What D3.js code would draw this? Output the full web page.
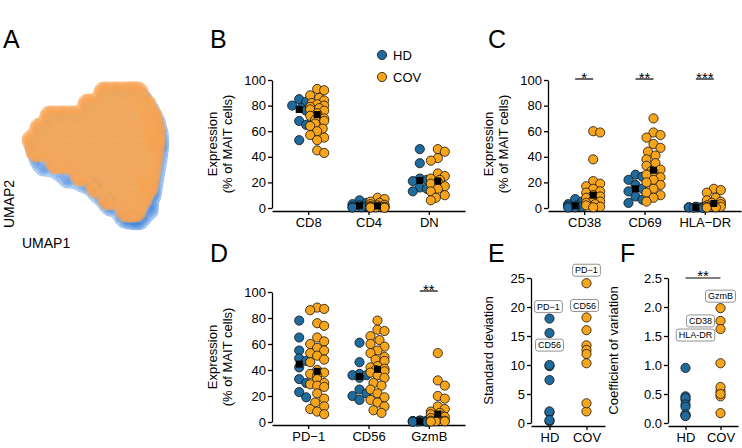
<!DOCTYPE html>
<html>
<head>
<meta charset="utf-8">
<script src="https://cdn.jsdelivr.net/npm/d3@7/dist/d3.min.js"></script>
<style>
  body { margin: 0; background: #fff; }
  text { font-family: Arial, "Liberation Sans", sans-serif; }
</style>
</head>
<body>
<div id="canvas"></div>
<script>
// ---- data ----
const hdColor = "#1f6b9e";
const covColor = "#f8a51c";

// panel A: UMAP density anchors, one row per UMAP2 level
const umapRowY = [5.8, 4.6, 3.4, 2.2, 1.0, -0.2, -1.4, -2.6, -3.8, -5.0, -6.2];
const umapRowX = [
  [1.4, 2.6, 3.8, 4.8],
  [-0.2, 1.0, 2.2, 3.4, 4.6, 5.6],
  [-4.0, -2.8, -1.6, -0.4, 0.8, 2.0, 3.2, 4.4, 5.6, 6.2],
  [-5.0, -3.8, -2.6, -1.4, -0.2, 1.0, 2.2, 3.4, 4.6, 5.8, 6.5],
  [-5.8, -4.6, -3.4, -2.2, -1.0, 0.2, 1.4, 2.6, 3.8, 5.0, 6.2, 6.5],
  [-5.4, -4.2, -3.0, -1.8, -0.6, 0.6, 1.8, 3.0, 4.2, 5.4, 6.4],
  [-3.4, -2.2, -1.0, 0.2, 1.4, 2.6, 3.8, 5.0, 6.2],
  [-1.0, 0.2, 1.4, 2.6, 3.8, 5.0, 6.0],
  [0.6, 1.8, 3.0, 4.2, 5.4, 5.8],
  [1.8, 3.0, 4.2, 5.2],
  [3.6, 4.6]
];
// HD cloud sits slightly lower and reaches further down on the bottom edge
const umapHDShift = [0.3, -0.6];
const umapHDExtra = [[-4.6, -1.6], [-2.2, -2.8], [0.4, -3.6], [1.8, -5.0], [3.4, -6.6], [4.8, -6.8], [5.8, -6.0]];

// panel B
const catsB = ["CD8", "CD4", "DN"];
const hdB = [
  [85, 83, 80, 78, 76, 68, 65, 53],
  [6, 4, 3, 2, 1.5, 1, 0.5, 0.3],
  [46, 35, 23, 22, 21, 16, 15, 13]
];
const covB = [
  [93, 92, 88, 86, 84, 82, 81, 80, 79, 78, 77, 76, 74, 72, 70, 69, 68, 66, 64, 62, 60, 57, 55, 53, 45, 43],
  [8, 7, 5, 4, 3, 2.5, 2, 1.5, 1, 1, 0.8, 0.5, 0.5, 0.3, 0.2],
  [46, 44, 39, 37, 27, 25, 23, 22, 20, 19, 17, 15, 13, 10, 8, 6]
];

// panel C
const catsC = ["CD38", "CD69", "HLA\u2212DR"];
const hdC = [
  [7, 5, 3, 2, 1.5, 1, 0.5, 0.3],
  [26, 24.5, 22, 18, 15, 13, 9, 6.5, 4],
  [1, 0.8, 0.6, 0.5, 0.4, 0.3, 0.2, 0.1]
];
const covC = [
  [60, 59, 38, 21, 19, 17, 15, 13, 12, 10, 9, 8, 6, 5, 4, 3, 2, 1, 0.5],
  [70, 59, 57, 55, 50, 47, 44, 41, 38, 35, 33, 30, 29, 28, 26, 24, 22, 20, 18, 15, 12, 10, 8, 5],
  [15, 14, 12, 8, 6, 5, 4, 3, 2, 1.5, 1, 0.8, 0.5, 0.3]
];
const starsC = ["*", "**", "***"];

// panel D
const catsD = ["PD\u22121", "CD56", "GzmB"];
const hdD = [
  [78, 65, 55, 49, 47, 42, 33, 30, 23, 19],
  [61, 46, 37, 36, 36, 34, 25, 22, 20, 17],
  [1.2, 1, 0.8, 0.6, 0.5, 0.4, 0.3, 0.2, 0.1]
];
const covD = [
  [88, 87, 86, 76, 74, 65, 62, 60, 57, 55, 53, 51, 48, 46, 40, 38, 37, 36, 33, 30, 29, 28, 27, 22, 18, 15, 12, 10, 8, 6],
  [78, 71, 70, 66, 63, 60, 58, 55, 53, 50, 48, 47, 43, 42, 41, 40, 39, 38, 36, 34, 30, 28, 25, 22, 19, 17, 15, 12, 9, 7],
  [53, 32, 28, 20, 18, 12, 10, 8, 7, 6, 5, 4, 3, 2, 1, 1, 0.5, 0.5, 0.3]
];
const starsD = ["", "", "**"];

// panel E / F (one value per marker: CD8, CD4, DN, CD38, CD69, HLA-DR, PD-1, CD56, GzmB)
const markers = ["CD8", "CD4", "DN", "CD38", "CD69", "HLA-DR", "PD\u22121", "CD56", "GzmB"];
const groups = ["HD", "COV"];
const sdHD = [9.8, 1.8, 10.0, 2.0, 7.4, 0.3, 18.0, 15.5, 0.5];
const sdCOV = [13.4, 2.0, 12.6, 11.9, 16.0, 3.4, 24.1, 18.2, 10.3];
const cvHD = [0.13, 0.95, 0.46, 0.40, 0.43, 0.32, 0.28, 0.15, 0.12];
const cvCOV = [0.17, 1.03, 0.55, 1.76, 0.46, 1.62, 0.62, 0.50, 1.98];

// ---- svg ----
const svg = d3.select("#canvas").append("svg")
  .attr("width", 742).attr("height", 448)
  .style("background", "#fff");

const letter = (t, x, y) => svg.append("text").attr("x", x).attr("y", y)
  .attr("font-size", 25).text(t);

letter("A", 3, 48);
letter("B", 210, 48);
letter("C", 488, 48);
letter("D", 210, 262);
letter("E", 488, 262);
letter("F", 620, 262);

// ---- Panel A: UMAP contours ----
const ux = d3.scaleLinear().domain([-9, 9]).range([0, 180]);
const uy = d3.scaleLinear().domain([-9, 9]).range([240, 60]);

const umapCOV = umapRowY.flatMap((yv, i) => umapRowX[i].map(xv => [xv, yv]));
const umapHD = umapCOV.map(d => [d[0] + umapHDShift[0], d[1] + umapHDShift[1]]).concat(umapHDExtra);

function contours(pts, bw, n, cut) {
  const cs = d3.contourDensity()
    .x(d => ux(d[0])).y(d => uy(d[1]))
    .size([200, 260]).cellSize(1).bandwidth(bw).thresholds(n)(pts);
  const top = d3.max(cs, c => c.value);
  return cs.filter(c => c.value > top * cut);
}

const umapG = svg.append("g");
umapG.selectAll("path.hd").data(contours(umapHD, 5, 40, 0.06)).join("path")
  .attr("class", "hd")
  .attr("d", d3.geoPath())
  .attr("fill", "#2f7ad8").attr("fill-opacity", 0.02)
  .attr("stroke", "#2f7ad8").attr("stroke-width", 0.5);
umapG.selectAll("path.cov").data(contours(umapCOV, 4.6, 45, 0.06)).join("path")
  .attr("class", "cov")
  .attr("d", d3.geoPath())
  .attr("fill", "#f7a556").attr("fill-opacity", 0.06)
  .attr("stroke", "#f7a556").attr("stroke-width", 0.5);

svg.append("text").attr("transform", "translate(14,204) rotate(-90)")
  .attr("text-anchor", "middle").attr("font-size", 14).text("UMAP2");
svg.append("text").attr("x", 22).attr("y", 248)
  .attr("font-size", 14).text("UMAP1");

// ---- helpers ----
function swarm(vals, cx, y, r) {
  const placed = [];
  const offs = [0, 4, -4, 7, -7, 2, -2, 5.5, -5.5];
  vals.slice().sort((a, b) => b - a).forEach(v => {
    const py = y(v);
    let best = 0, bestScore = Infinity;
    offs.forEach(o => {
      let s = Math.abs(o) * 0.3;
      placed.forEach(p => {
        const dd = Math.hypot(p.x - (cx + o), p.y - py);
        if (dd < 2 * r) s += 2 * r - dd;
      });
      if (s < bestScore) { bestScore = s; best = o; }
    });
    placed.push({ x: cx + best, y: py, v: v });
  });
  return placed;
}

function styleAxis(g) {
  g.selectAll(".domain").attr("stroke", "#000").attr("stroke-width", 1.3);
  g.selectAll(".tick line").attr("stroke", "#000").attr("stroke-width", 1.3);
  g.selectAll(".tick text").attr("font-size", 13).attr("fill", "#000")
    .attr("font-family", "Arial, 'Liberation Sans', sans-serif");
}

function yTitle(lines, x, y) {
  const t = svg.append("text").attr("transform", `translate(${x},${y}) rotate(-90)`)
    .attr("text-anchor", "middle").attr("font-size", 13);
  lines.forEach((l, i) => t.append("tspan").attr("x", 0).attr("dy", i ? 15 : 0).text(l));
}

// dot strip panel (B, C, D); black squares mark the median
function stripPanel(cfg) {
  const y = d3.scaleLinear().domain([0, 100]).range([cfg.y0, cfg.y100]);
  const x = d3.scalePoint().domain(cfg.cats).range([cfg.ax, cfg.ax + 193]).padding(0.6);

  svg.append("g").attr("transform", `translate(${cfg.ax},0)`)
    .call(d3.axisLeft(y).tickValues([0, 20, 40, 60, 80, 100]).tickSize(4).tickSizeOuter(0).tickPadding(2))
    .call(styleAxis);
  svg.append("g").attr("transform", `translate(0,${cfg.y0 + 3})`)
    .call(d3.axisBottom(x).tickSize(4).tickSizeOuter(0).tickPadding(3))
    .call(styleAxis);

  yTitle(["Expression", "(% of MAIT cells)"], cfg.ax - 55, (cfg.y0 + cfg.y100) / 2);

  const r = 4.6;
  cfg.cats.forEach((c, i) => {
    [[cfg.hd[i], -9, hdColor], [cfg.cov[i], 9, covColor]].forEach(([vals, dx, col]) => {
      const cx = x(c) + dx;
      svg.append("g").selectAll("circle").data(swarm(vals, cx, y, r)).join("circle")
        .attr("cx", d => d.x).attr("cy", d => d.y).attr("r", r)
        .attr("fill", col).attr("stroke", "#111").attr("stroke-width", 0.8);
    });
    [[cfg.hd[i], -9], [cfg.cov[i], 9]].forEach(([vals, dx]) => {
      const m = d3.median(vals);
      svg.append("rect").attr("x", x(c) + dx - 3.5).attr("y", y(m) - 3.5)
        .attr("width", 7).attr("height", 7).attr("fill", "#000");
    });
    if (cfg.stars && cfg.stars[i]) {
      svg.append("line").attr("x1", x(c) - 9).attr("x2", x(c) + 9)
        .attr("y1", y(100) - 1).attr("y2", y(100) - 1)
        .attr("stroke", "#000").attr("stroke-width", 1.2);
      svg.append("text").attr("x", x(c)).attr("y", y(100) + 3).attr("text-anchor", "middle")
        .attr("font-size", 15).text(cfg.stars[i]);
    }
  });
}

stripPanel({ cats: catsB, hd: hdB, cov: covB, ax: 272, y0: 208, y100: 80 });
stripPanel({ cats: catsC, hd: hdC, cov: covC, ax: 548, y0: 208, y100: 80, stars: starsC });
stripPanel({ cats: catsD, hd: hdD, cov: covD, ax: 272, y0: 422, y100: 292, stars: starsD });

// legend
const legend = svg.append("g").attr("transform", "translate(382,55)");
[["HD", hdColor], ["COV", covColor]].forEach(([t, c], i) => {
  legend.append("circle").attr("cx", 0).attr("cy", i * 22).attr("r", 4.6)
    .attr("fill", c).attr("stroke", "#111").attr("stroke-width", 0.8);
  legend.append("text").attr("x", 11).attr("y", i * 22 + 5).attr("font-size", 13).text(t);
});

// summary panels (E, F)
function summaryPanel(cfg) {
  const y = d3.scaleLinear().domain([0, cfg.max]).range([cfg.y0, cfg.yTop]);
  const x = d3.scalePoint().domain(groups).range([cfg.ax, cfg.ax + cfg.w]).padding(0.5);

  svg.append("g").attr("transform", `translate(${cfg.ax},0)`)
    .call(d3.axisLeft(y).tickValues(cfg.ticks).tickFormat(cfg.fmt).tickSize(4).tickSizeOuter(0).tickPadding(2))
    .call(styleAxis);
  svg.append("g").attr("transform", `translate(0,${cfg.y0 + 3})`)
    .call(d3.axisBottom(x).tickSize(4).tickSizeOuter(0).tickPadding(3))
    .call(styleAxis);
  yTitle([cfg.title], cfg.ax - cfg.titleOff, (cfg.y0 + cfg.yTop) / 2);

  const r = 4.6;
  [[cfg.hd, "HD", hdColor], [cfg.cov, "COV", covColor]].forEach(([vals, g, col]) => {
    svg.append("g").selectAll("circle").data(vals).join("circle")
      .attr("cx", x(g)).attr("cy", d => y(d)).attr("r", r)
      .attr("fill", col).attr("stroke", "#111").attr("stroke-width", 0.8);
  });

  cfg.labels.forEach(l => {
    const vals = l.group === "HD" ? cfg.hd : cfg.cov;
    const v = vals[markers.indexOf(l.marker)];
    const cx = x(l.group) + l.dx, cy = y(v) + l.dy;
    const t = svg.append("text").attr("x", cx).attr("y", cy + 3.2)
      .attr("text-anchor", "middle").attr("font-size", 9).text(l.marker);
    const w = t.node().getComputedTextLength() + 5;
    svg.insert("rect", () => t.node()).attr("x", cx - w / 2).attr("y", cy - 6)
      .attr("width", w).attr("height", 12).attr("rx", 2.5)
      .attr("fill", "#fff").attr("stroke", "#777").attr("stroke-width", 0.8);
  });

  if (cfg.stars) {
    svg.append("line").attr("x1", x("HD")).attr("x2", x("COV"))
      .attr("y1", cfg.yTop).attr("y2", cfg.yTop).attr("stroke", "#000").attr("stroke-width", 1.2);
    svg.append("text").attr("x", (x("HD") + x("COV")) / 2).attr("y", cfg.yTop + 3)
      .attr("text-anchor", "middle").attr("font-size", 15).text(cfg.stars);
  }
}

summaryPanel({
  hd: sdHD, cov: sdCOV, max: 25, ticks: [0, 5, 10, 15, 20, 25], fmt: d3.format("d"),
  ax: 531, w: 74, y0: 423, yTop: 278, title: "Standard deviation", titleOff: 38,
  labels: [
    { marker: "PD\u22121", group: "COV", dx: 0, dy: -13 },
    { marker: "PD\u22121", group: "HD", dx: -1, dy: -12 },
    { marker: "CD56", group: "COV", dx: -2, dy: -12 },
    { marker: "CD56", group: "HD", dx: 0, dy: 12 }
  ]
});
summaryPanel({
  hd: cvHD, cov: cvCOV, max: 2.5, ticks: [0, 0.5, 1, 1.5, 2, 2.5], fmt: d3.format(".1f"),
  ax: 668, w: 70, y0: 423, yTop: 278, title: "Coefficient of variation", titleOff: 50,
  stars: "**",
  labels: [
    { marker: "GzmB", group: "COV", dx: 0, dy: -12 },
    { marker: "CD38", group: "COV", dx: -20, dy: 0 },
    { marker: "HLA-DR", group: "COV", dx: -25, dy: 6 }
  ]
});
</script>
</body>
</html>
